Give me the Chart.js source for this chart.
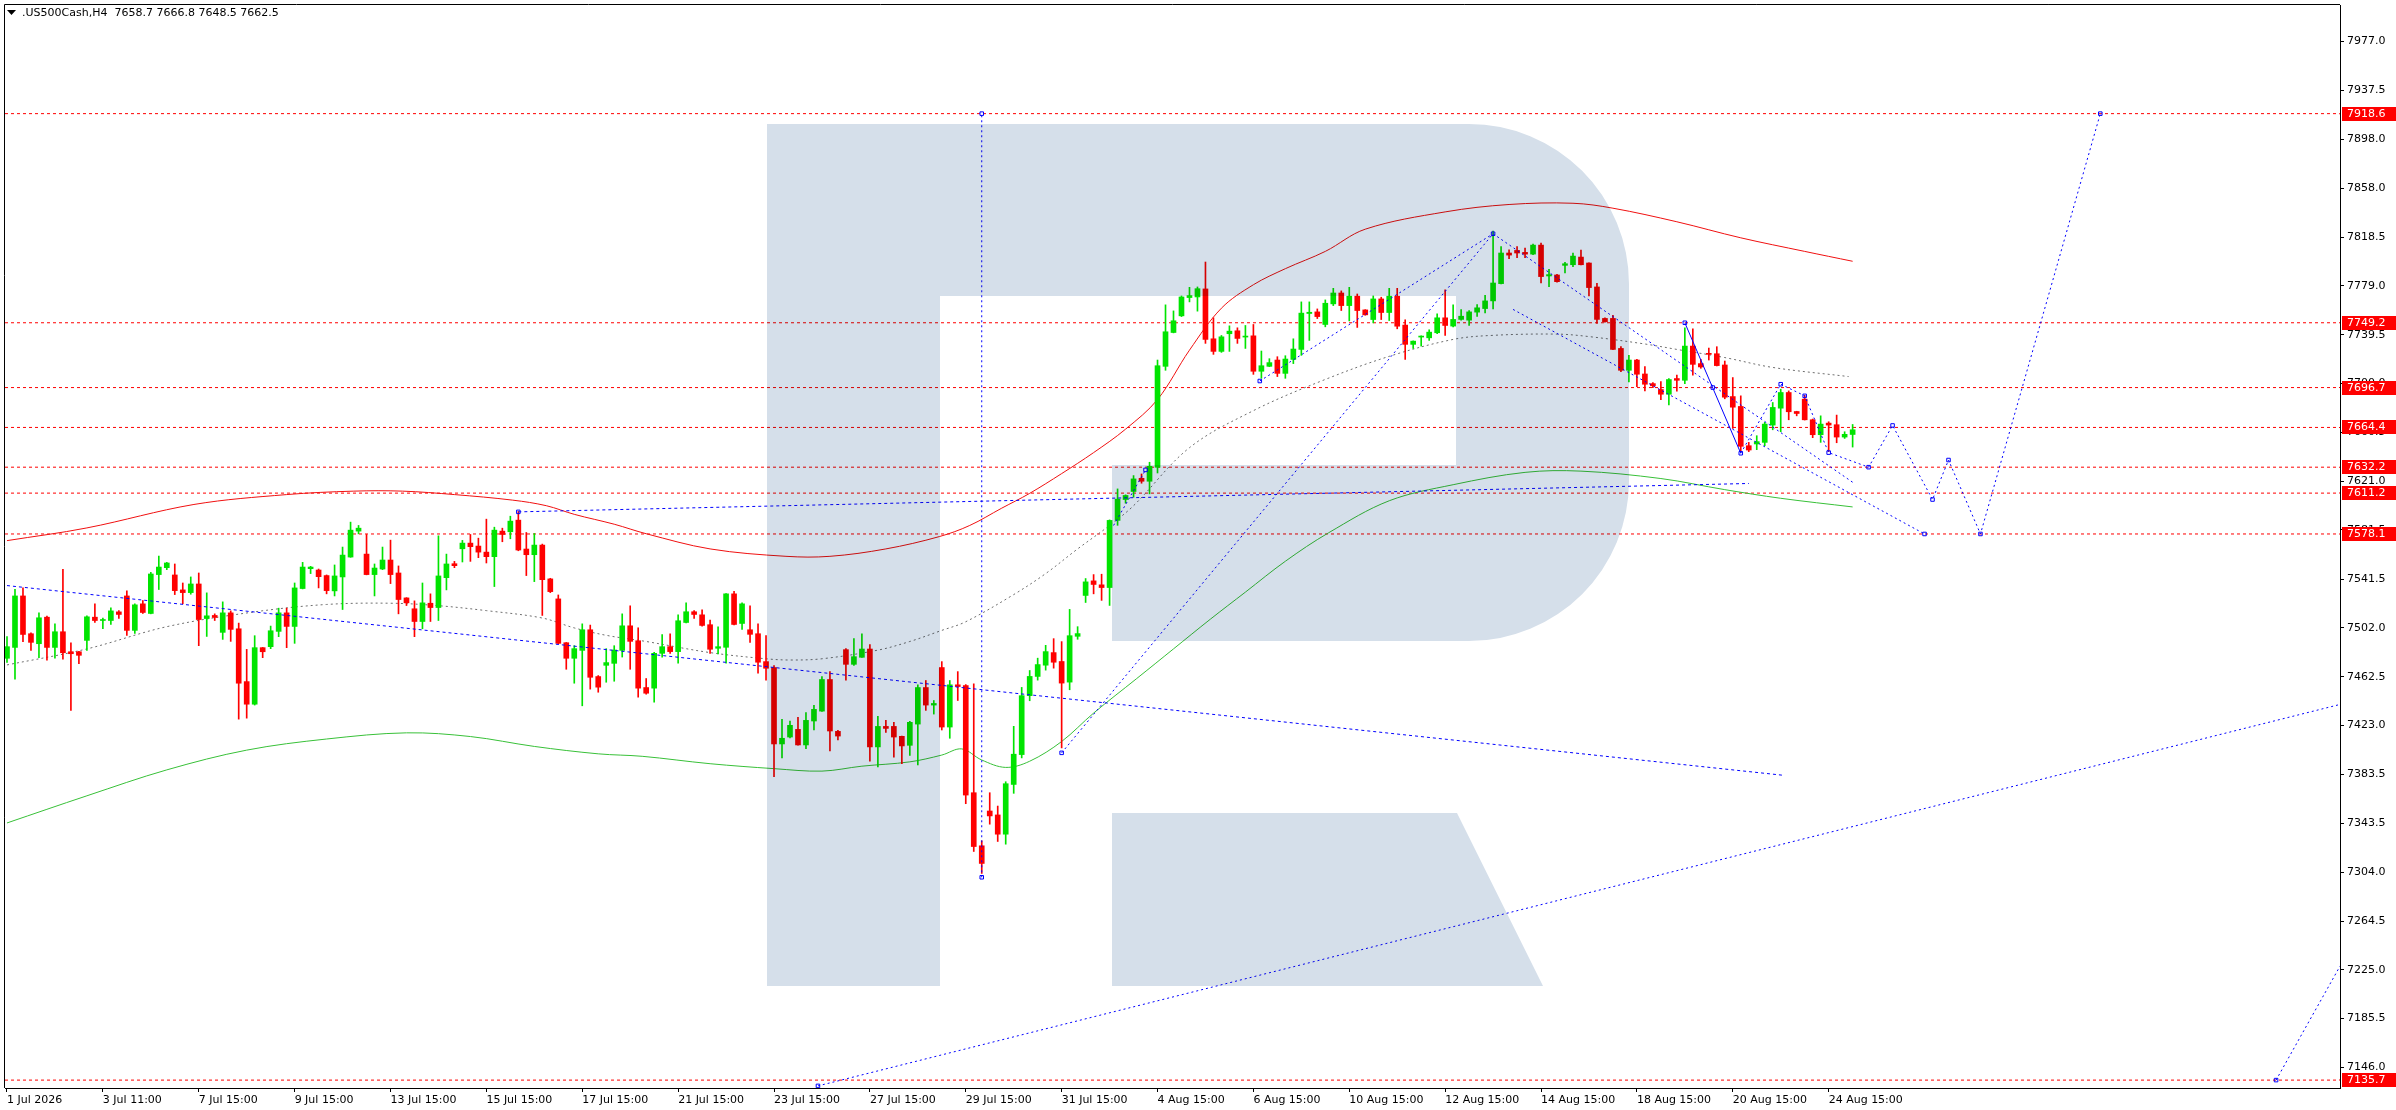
<!DOCTYPE html>
<html>
<head>
<meta charset="utf-8">
<script src="https://cdn.jsdelivr.net/npm/chart.js@4.4.1/dist/chart.umd.min.js"></script>
<style>
  html, body { margin: 0; padding: 0; background: #fff; overflow: hidden; }
  #wrap { position: absolute; left: 0; top: 0; width: 2396px; height: 1110px; }
</style>
</head>
<body>
<div id="wrap"><canvas id="chart"></canvas></div>
<script>
// .US500Cash H4 candles, bar 0 = 1 Jul 2026
const opens = [
  7477.4, 7486.2, 7527.9, 7497.3, 7489.2, 7510.7, 7486.2, 7498.9, 7482.7, 7482.7,
  7491.9, 7510.7, 7508.0, 7508.0, 7515.0, 7527.9, 7500.0, 7521.5, 7513.7, 7545.2,
  7550.8, 7544.9, 7532.8, 7530.6, 7537.6, 7509.6, 7512.1, 7498.4, 7514.2, 7501.3,
  7458.5, 7440.2, 7486.0, 7486.8, 7499.2, 7514.2, 7503.2, 7533.9, 7550.0, 7548.9,
  7544.4, 7532.0, 7543.3, 7559.4, 7580.4, 7561.8, 7545.2, 7549.7, 7557.0, 7546.5,
  7526.3, 7517.5, 7507.2, 7522.0, 7518.5, 7542.7, 7554.0, 7566.1, 7570.7, 7568.3,
  7563.4, 7559.7, 7580.4, 7579.9, 7589.3, 7565.9, 7561.3, 7569.1, 7541.7, 7525.5,
  7490.0, 7477.4, 7483.8, 7500.5, 7462.6, 7471.7, 7473.3, 7483.8, 7503.7, 7491.6,
  7453.7, 7453.2, 7481.4, 7486.8, 7482.8, 7506.4, 7515.1, 7512.6, 7504.6, 7485.5,
  7486.3, 7529.6, 7505.6, 7500.5, 7497.3, 7474.7, 7469.9, 7408.0, 7413.6, 7419.8,
  7407.2, 7426.6, 7434.6, 7460.2, 7418.2, 7484.4, 7472.5, 7478.2, 7484.9, 7405.6,
  7422.2, 7422.2, 7414.2, 7406.9, 7424.1, 7453.7, 7439.5, 7469.9, 7421.7, 7455.9,
  7455.3, 7368.5, 7325.5, 7353.7, 7350.5, 7334.9, 7375.2, 7399.4, 7447.1, 7462.7,
  7471.8, 7482.0, 7474.8, 7458.1, 7495.2, 7528.3, 7540.1, 7536.9, 7534.7, 7589.1,
  7606.0, 7612.5, 7623.2, 7620.8, 7632.1, 7713.9, 7741.3, 7754.8, 7769.6, 7770.1,
  7776.6, 7736.2, 7726.0, 7740.3, 7742.7, 7737.6, 7738.6, 7709.9, 7713.9, 7719.0,
  7708.2, 7719.5, 7727.6, 7756.7, 7758.0, 7747.8, 7764.5, 7773.3, 7763.1, 7770.7,
  7759.6, 7751.8, 7768.5, 7757.5, 7770.7, 7747.3, 7731.7, 7737.6, 7737.0, 7741.1,
  7753.2, 7746.5, 7751.9, 7751.3, 7757.8, 7760.7, 7766.9, 7780.9, 7805.7, 7807.8,
  7806.2, 7804.8, 7812.1, 7787.1, 7787.9, 7795.7, 7796.2, 7802.4, 7797.6, 7778.2,
  7752.7, 7752.7, 7728.4, 7710.7, 7719.0, 7707.7, 7699.9, 7695.1, 7691.3, 7704.0,
  7702.6, 7730.3, 7716.1, 7724.4, 7724.1, 7715.0, 7689.4, 7681.4, 7649.6, 7651.0,
  7652.3, 7666.3, 7680.0, 7692.7, 7677.3, 7687.3, 7670.6, 7658.5, 7667.9, 7666.6,
  7656.6, 7658.7
];
const highs = [
  7494.9, 7533.3, 7534.4, 7498.1, 7514.2, 7511.5, 7505.3, 7549.5, 7490.0, 7483.0,
  7511.8, 7521.5, 7509.9, 7518.3, 7516.1, 7532.0, 7521.5, 7524.2, 7547.0, 7560.2,
  7555.1, 7553.8, 7538.4, 7543.3, 7546.5, 7530.4, 7513.4, 7523.1, 7515.8, 7505.9,
  7484.6, 7495.7, 7486.2, 7503.5, 7518.0, 7518.0, 7538.4, 7555.1, 7551.9, 7549.7,
  7544.9, 7553.0, 7567.5, 7587.7, 7585.0, 7577.7, 7553.8, 7567.5, 7573.1, 7552.2,
  7526.5, 7523.9, 7538.4, 7529.6, 7576.6, 7561.8, 7555.9, 7572.9, 7577.7, 7574.7,
  7590.1, 7583.6, 7582.8, 7592.5, 7596.3, 7579.3, 7578.5, 7569.9, 7542.2, 7528.7,
  7490.2, 7487.6, 7505.3, 7504.3, 7463.4, 7485.2, 7487.6, 7513.4, 7519.9, 7502.1,
  7461.0, 7482.2, 7496.5, 7497.3, 7512.6, 7522.3, 7516.1, 7516.7, 7508.3, 7502.9,
  7529.8, 7531.7, 7522.3, 7519.9, 7505.4, 7495.7, 7471.5, 7427.9, 7426.6, 7429.5,
  7433.5, 7439.2, 7462.6, 7466.6, 7419.0, 7485.2, 7493.3, 7497.3, 7488.4, 7430.3,
  7427.1, 7425.5, 7414.4, 7426.3, 7455.9, 7459.4, 7443.2, 7474.7, 7459.4, 7466.6,
  7456.1, 7456.7, 7329.5, 7368.5, 7357.7, 7377.4, 7422.3, 7453.8, 7467.5, 7477.5,
  7487.9, 7493.3, 7490.9, 7517.0, 7503.0, 7542.0, 7545.2, 7545.5, 7589.5, 7614.6,
  7609.8, 7625.4, 7626.7, 7636.2, 7719.0, 7763.7, 7758.8, 7770.9, 7777.9, 7778.2,
  7798.4, 7753.2, 7738.9, 7746.7, 7745.1, 7747.0, 7747.8, 7726.3, 7720.1, 7721.7,
  7722.5, 7736.2, 7766.1, 7766.1, 7760.4, 7767.7, 7777.1, 7775.0, 7777.9, 7772.5,
  7759.8, 7770.9, 7769.9, 7777.1, 7777.1, 7751.6, 7734.5, 7738.6, 7743.5, 7756.4,
  7775.8, 7763.7, 7759.9, 7759.1, 7764.0, 7771.5, 7823.4, 7811.0, 7808.3, 7811.0,
  7809.7, 7812.9, 7813.7, 7792.5, 7788.4, 7798.1, 7805.7, 7808.1, 7797.8, 7781.2,
  7753.2, 7755.3, 7729.8, 7722.8, 7719.6, 7713.7, 7700.7, 7701.5, 7704.0, 7706.9,
  7745.1, 7744.3, 7719.6, 7728.7, 7729.8, 7718.2, 7704.8, 7690.0, 7652.3, 7657.7,
  7668.5, 7684.6, 7695.4, 7694.0, 7677.5, 7690.5, 7671.2, 7673.8, 7669.0, 7674.4,
  7660.9, 7666.8
];
const lows = [
  7474.1, 7460.4, 7490.8, 7483.8, 7477.9, 7475.8, 7477.4, 7476.6, 7435.1, 7473.1,
  7483.8, 7506.4, 7501.3, 7504.8, 7509.6, 7495.9, 7497.5, 7513.7, 7513.4, 7533.1,
  7549.2, 7529.0, 7521.5, 7529.3, 7487.6, 7495.1, 7508.0, 7492.7, 7491.1, 7428.1,
  7428.9, 7439.5, 7477.9, 7485.2, 7494.9, 7486.0, 7489.5, 7533.6, 7546.0, 7534.4,
  7529.6, 7527.9, 7516.9, 7559.2, 7578.2, 7545.0, 7527.9, 7549.2, 7537.9, 7513.4,
  7520.1, 7494.9, 7501.3, 7507.2, 7508.0, 7532.8, 7550.8, 7555.4, 7555.9, 7558.9,
  7554.6, 7535.5, 7571.8, 7574.2, 7564.5, 7544.4, 7539.5, 7512.1, 7530.6, 7489.0,
  7468.5, 7457.2, 7438.9, 7452.4, 7449.9, 7458.0, 7458.8, 7478.4, 7468.5, 7445.9,
  7448.3, 7441.9, 7478.2, 7481.4, 7473.4, 7506.0, 7509.7, 7503.5, 7481.4, 7480.9,
  7473.4, 7504.5, 7500.8, 7490.3, 7465.3, 7459.6, 7381.4, 7396.7, 7412.8, 7407.0,
  7404.2, 7419.3, 7434.3, 7402.3, 7411.2, 7459.6, 7471.7, 7478.0, 7394.0, 7389.4,
  7417.4, 7397.2, 7392.1, 7398.8, 7391.0, 7435.2, 7432.2, 7419.3, 7412.6, 7443.2,
  7359.6, 7320.9, 7303.1, 7343.0, 7329.0, 7326.8, 7368.0, 7396.7, 7443.0, 7459.7,
  7467.8, 7469.4, 7404.8, 7451.9, 7492.8, 7522.6, 7529.6, 7524.3, 7520.2, 7585.1,
  7603.1, 7607.9, 7619.2, 7610.6, 7627.5, 7710.7, 7741.0, 7754.2, 7766.1, 7758.6,
  7732.5, 7723.6, 7725.2, 7726.0, 7732.5, 7728.4, 7707.4, 7704.2, 7713.6, 7705.6,
  7704.2, 7716.1, 7722.8, 7734.9, 7752.6, 7745.9, 7763.1, 7759.1, 7750.7, 7745.4,
  7755.3, 7749.1, 7751.8, 7751.0, 7744.3, 7719.5, 7728.4, 7730.3, 7734.9, 7740.3,
  7738.9, 7745.9, 7751.3, 7747.0, 7754.3, 7757.2, 7760.5, 7780.6, 7801.1, 7801.9,
  7801.9, 7804.3, 7781.4, 7778.5, 7782.0, 7789.5, 7794.6, 7796.0, 7771.0, 7748.6,
  7749.7, 7727.4, 7709.6, 7701.3, 7697.5, 7694.0, 7696.7, 7686.8, 7682.7, 7693.7,
  7699.9, 7706.7, 7712.3, 7719.0, 7714.2, 7687.6, 7663.6, 7644.8, 7644.8, 7646.4,
  7649.6, 7662.5, 7660.9, 7670.6, 7673.8, 7670.4, 7656.1, 7652.3, 7644.8, 7652.0,
  7655.5, 7648.5
];
const closes = [
  7486.8, 7527.9, 7496.7, 7490.3, 7510.2, 7486.2, 7498.9, 7481.9, 7481.1, 7479.8,
  7511.0, 7508.0, 7508.8, 7515.8, 7512.9, 7500.0, 7520.7, 7514.5, 7545.7, 7551.3,
  7554.6, 7532.2, 7530.6, 7537.6, 7508.8, 7511.8, 7510.5, 7514.2, 7500.8, 7457.2,
  7440.2, 7486.0, 7482.7, 7499.7, 7514.2, 7503.2, 7534.4, 7551.3, 7551.3, 7543.5,
  7532.2, 7544.1, 7561.0, 7581.2, 7582.8, 7545.2, 7550.5, 7557.0, 7545.2, 7525.0,
  7522.3, 7507.2, 7522.3, 7518.5, 7544.1, 7553.8, 7552.4, 7570.7, 7567.8, 7563.4,
  7559.7, 7581.2, 7577.7, 7588.5, 7565.1, 7561.3, 7569.1, 7541.1, 7531.4, 7489.5,
  7477.4, 7485.2, 7500.5, 7462.0, 7454.0, 7473.9, 7484.1, 7503.7, 7491.1, 7453.2,
  7449.1, 7481.4, 7486.8, 7482.8, 7507.8, 7515.1, 7512.9, 7504.0, 7484.7, 7486.8,
  7529.6, 7504.8, 7521.5, 7496.8, 7474.2, 7469.3, 7408.0, 7412.6, 7423.1, 7407.2,
  7427.1, 7436.0, 7460.2, 7418.5, 7414.4, 7472.5, 7478.7, 7484.9, 7405.6, 7422.2,
  7420.6, 7413.6, 7406.4, 7425.5, 7453.7, 7439.5, 7440.8, 7421.7, 7455.9, 7454.5,
  7366.6, 7324.9, 7311.2, 7349.7, 7334.9, 7375.8, 7399.7, 7447.1, 7462.7, 7472.3,
  7482.8, 7474.2, 7457.3, 7495.7, 7497.4, 7539.3, 7537.2, 7534.7, 7589.1, 7606.3,
  7609.3, 7622.7, 7620.8, 7632.9, 7714.4, 7741.9, 7750.8, 7770.1, 7771.2, 7776.8,
  7735.7, 7726.0, 7737.8, 7742.4, 7736.5, 7738.4, 7709.9, 7714.4, 7716.9, 7708.2,
  7719.8, 7727.9, 7757.0, 7757.7, 7754.2, 7765.0, 7773.3, 7763.1, 7770.7, 7759.1,
  7755.6, 7768.5, 7757.5, 7770.7, 7746.4, 7731.7, 7734.3, 7738.1, 7741.6, 7753.2,
  7747.0, 7751.9, 7754.5, 7758.0, 7761.3, 7766.9, 7781.4, 7805.7, 7804.0, 7805.7,
  7804.8, 7812.1, 7786.6, 7788.2, 7782.5, 7797.0, 7803.2, 7796.2, 7777.7, 7751.9,
  7750.0, 7727.6, 7710.7, 7719.0, 7707.5, 7699.4, 7698.1, 7691.3, 7703.2, 7702.6,
  7730.3, 7715.5, 7713.4, 7723.6, 7714.5, 7688.9, 7680.8, 7649.1, 7646.1, 7652.9,
  7667.1, 7680.6, 7692.7, 7677.1, 7675.7, 7670.6, 7658.5, 7667.1, 7666.3, 7656.6,
  7658.8, 7662.5
];

// time axis labels, one every 12 bars
const xTickLabels = [
  '1 Jul 2026', '3 Jul 11:00', '7 Jul 15:00', '9 Jul 15:00', '13 Jul 15:00',
  '15 Jul 15:00', '17 Jul 15:00', '21 Jul 15:00', '23 Jul 15:00', '27 Jul 15:00',
  '29 Jul 15:00', '31 Jul 15:00', '4 Aug 15:00', '6 Aug 15:00', '10 Aug 15:00',
  '12 Aug 15:00', '14 Aug 15:00', '18 Aug 15:00', '20 Aug 15:00', '24 Aug 15:00'
];
const yTicks = [
  7146.0, 7185.5, 7225.0, 7264.5, 7304.0, 7343.5, 7383.5, 7423.0, 7462.5, 7502.0, 7541.5,
  7581.5, 7621.0, 7660.5, 7700.0, 7739.5, 7779.0, 7818.5, 7858.0, 7898.0, 7937.5, 7977.0
];

// horizontal support / resistance levels
const levels = [7918.6, 7749.2, 7696.7, 7664.4, 7632.2, 7611.2, 7578.1, 7135.7];

// envelope bands [bar, price]
const upperBand = [
  [0, 7572.7], [10, 7583], [23.4, 7602], [35, 7610], [43.4, 7612.8], [49.5, 7612.8],
  [56, 7610], [63.3, 7605.5], [67.5, 7601], [71, 7594], [76, 7586], [80, 7578.3],
  [88, 7566], [97.5, 7560], [103, 7560], [110, 7566], [116.7, 7576], [120.5, 7585],
  [124.5, 7599], [128, 7611], [132, 7627], [136, 7644], [140, 7663], [144, 7687],
  [148, 7727], [152, 7761], [156, 7780], [160, 7793], [165, 7807], [170, 7825],
  [180, 7839], [188, 7845], [196, 7846], [201, 7842], [209, 7831], [217, 7818],
  [225, 7807], [231, 7799]
];
const middleBand = [
  [0, 7472], [10, 7485], [20, 7503], [31, 7515], [40, 7521], [48, 7522], [54, 7520],
  [60, 7516], [67, 7510], [71, 7502], [75, 7496], [80, 7491], [88, 7482], [95, 7477],
  [98, 7476], [102, 7477], [109, 7484], [113, 7491], [117, 7500], [120, 7507],
  [126, 7529], [130, 7546], [134, 7566], [138, 7585], [141, 7601], [148, 7648],
  [156, 7678], [164.5, 7702], [173, 7722], [181, 7735.7], [186, 7739], [194, 7740],
  [198, 7738], [205, 7732], [209, 7727.6], [215, 7721], [221, 7713], [230.5, 7705.6]
];
const lowerBand = [
  [0, 7344], [10, 7366], [20, 7387], [30, 7403], [40, 7412], [50, 7417], [58, 7414],
  [66, 7406], [74, 7400], [79.5, 7398], [88, 7392], [96, 7388], [102, 7386], [107, 7390],
  [113, 7393.5], [117, 7399], [119.5, 7404], [122, 7395], [125, 7389], [128, 7394],
  [132, 7410], [136, 7433], [141.4, 7461], [146, 7485], [150.6, 7509], [155, 7531],
  [160, 7556], [165.4, 7579], [173, 7605], [181, 7618], [190, 7628], [197, 7629],
  [207, 7623], [215, 7614], [222, 7607], [231, 7600]
];

// analysis lines [bar, price]
const trendDown = [[0, 7536.3], [222.5, 7382.5]];
const trendUp = [[101.5, 7131], [292, 7440]];
const flatLine = [[64, 7596], [218, 7619]];
const verticalLine = [[122, 7300], [122, 7918.6]];
const riseA = [[132, 7400.8], [186, 7821.3]];
const riseB = [[138.5, 7585], [142.5, 7630]];
const riseC = [[156.8, 7702], [186, 7821.3]];
const channelTop = [[186, 7821.3], [231, 7620]];
const channelBottom = [[188.5, 7760], [240, 7578.1]];
const waveSolid = [[210, 7749.2], [217, 7643.5]];
const forecastPath = [
  [217, 7643.5], [222, 7699.4], [225, 7690], [228, 7644], [233, 7632.2], [236, 7666],
  [241, 7606], [243, 7638], [247, 7578.1], [262, 7918.6]
];
const lowerLeg = [[284, 7135.7], [292, 7228]];
const markers = [
  [122, 7918.6], [122, 7300], [132, 7400.8], [142.5, 7630], [156.8, 7702], [186, 7821.3],
  [210, 7749.2], [213.5, 7696.7], [217, 7643.5], [222, 7699.4], [225, 7690], [228, 7644],
  [233, 7632.2], [236, 7666], [241, 7606], [243, 7638], [247, 7578.1], [240, 7578.1],
  [262, 7918.6], [284, 7135.7], [101.5, 7131], [64, 7596]
];

const X_MIN = -0.25, X_MAX = 292;
const Y_MIN = 7129.3, Y_MAX = 8006.6;
const UP = '#00e400', DOWN = '#ff0000', BLUE = '#0000ff';

Chart.defaults.font.family = '"DejaVu Sans", sans-serif';
Chart.defaults.font.size = 11;
Chart.defaults.color = '#000';

const candleColors = opens.map((o, i) => closes[i] >= o ? UP : DOWN);

function lineSet(points, color, dash, order, extra) {
  return Object.assign({
    type: 'line',
    data: points.map(p => ({ x: p[0], y: p[1] })),
    borderColor: color,
    borderWidth: 1,
    borderDash: dash,
    pointRadius: 0,
    fill: false,
    order: order
  }, extra || {});
}

const smooth = { tension: 0.35 };
const datasets = [];
levels.forEach(v => datasets.push(lineSet([[X_MIN, v], [X_MAX, v]], '#ff0000', [3, 3], 9)));
datasets.push(lineSet(upperBand, '#f01010', [], 8, smooth));
datasets.push(lineSet(middleBand, '#6e6e6e', [2, 3], 8, smooth));
datasets.push(lineSet(lowerBand, '#38c038', [], 8, smooth));
datasets.push({
  type: 'bar',
  data: opens.map((o, i) => ({ x: i, y: [lows[i], highs[i]] })),
  backgroundColor: candleColors,
  barThickness: 1,
  grouped: false,
  order: 5
});
datasets.push({
  type: 'bar',
  data: opens.map((o, i) => ({ x: i, y: [o, closes[i]] })),
  backgroundColor: candleColors,
  barThickness: 5,
  minBarLength: 1,
  grouped: false,
  order: 4
});
[trendDown, flatLine].forEach(p => datasets.push(lineSet(p, BLUE, [3, 3], 3)));
[trendUp, verticalLine, riseA, riseB, riseC, channelTop, channelBottom, forecastPath, lowerLeg]
  .forEach(p => datasets.push(lineSet(p, BLUE, [2, 3], 3)));
datasets.push(lineSet(waveSolid, BLUE, [], 3));
datasets.push(lineSet(markers, BLUE, [], 2, {
  showLine: false, pointRadius: 2.5, pointStyle: 'rect',
  pointBorderColor: BLUE, pointBackgroundColor: 'rgba(255,255,255,0)', pointBorderWidth: 1
}));

// watermark logo, blended over the plot
const logoPlugin = {
  id: 'logo',
  afterDatasetsDraw(chart) {
    const { ctx, chartArea } = chart;
    const sx = chart.width / 2396, sy = chart.height / 1110;
    ctx.save();
    ctx.beginPath();
    ctx.rect(chartArea.left, chartArea.top, chartArea.width, chartArea.height);
    ctx.clip();
    ctx.globalCompositeOperation = 'multiply';
    ctx.fillStyle = 'rgb(213,223,234)';
    ctx.beginPath();
    ctx.moveTo(767 * sx, 124 * sy);
    ctx.arcTo(1629 * sx, 124 * sy, 1629 * sx, 641 * sy, 160 * sx);
    ctx.arcTo(1629 * sx, 641 * sy, 767 * sx, 641 * sy, 160 * sx);
    ctx.lineTo(1112 * sx, 641 * sy);
    ctx.lineTo(1112 * sx, 465 * sy);
    ctx.lineTo(1456 * sx, 465 * sy);
    ctx.lineTo(1456 * sx, 296 * sy);
    ctx.lineTo(940 * sx, 296 * sy);
    ctx.lineTo(940 * sx, 986 * sy);
    ctx.lineTo(767 * sx, 986 * sy);
    ctx.closePath();
    ctx.moveTo(1112 * sx, 813 * sy);
    ctx.lineTo(1457 * sx, 813 * sy);
    ctx.lineTo(1543 * sx, 986 * sy);
    ctx.lineTo(1112 * sx, 986 * sy);
    ctx.closePath();
    ctx.fill();
    ctx.restore();
  }
};

// frame, title and price tags
const overlayPlugin = {
  id: 'overlay',
  afterDraw(chart) {
    const { ctx, chartArea } = chart;
    const yScale = chart.scales.y;
    ctx.save();
    ctx.strokeStyle = '#000';
    ctx.lineWidth = 1;
    ctx.beginPath();
    ctx.moveTo(chartArea.left - 0.5, chartArea.bottom);
    ctx.lineTo(chartArea.left - 0.5, chartArea.top - 0.5);
    ctx.lineTo(chartArea.right, chartArea.top - 0.5);
    ctx.stroke();

    ctx.font = '11px "DejaVu Sans"';
    ctx.textBaseline = 'middle';
    levels.forEach(v => {
      const y = Math.round(yScale.getPixelForValue(v));
      ctx.fillStyle = '#ff0000';
      ctx.fillRect(chartArea.right + 2, y - 7, chart.width - chartArea.right - 2, 14);
      ctx.fillStyle = '#fff';
      ctx.fillText(v.toFixed(1), chartArea.right + 7, y + 0.5);
    });

    const last = opens.length - 1;
    const title = '.US500Cash,H4  ' + [opens[last], highs[last], lows[last], closes[last]]
      .map(v => v.toFixed(1)).join(' ');
    ctx.fillStyle = '#000';
    ctx.beginPath();
    ctx.moveTo(7, 10);
    ctx.lineTo(16, 10);
    ctx.lineTo(11.5, 15);
    ctx.closePath();
    ctx.fill();
    ctx.fillText(title, 22, 13);
    ctx.restore();
  }
};

new Chart(document.getElementById('chart'), {
  type: 'bar',
  data: { datasets: datasets },
  options: {
    responsive: true,
    maintainAspectRatio: false,
    animation: false,
    events: [],
    layout: { padding: { left: 2, top: 1, right: 0, bottom: 0 } },
    plugins: { legend: { display: false }, tooltip: { enabled: false } },
    scales: {
      x: {
        type: 'linear',
        min: X_MIN,
        max: X_MAX,
        offset: false,
        grid: { display: true, drawOnChartArea: false, drawTicks: true, tickLength: 4, color: '#000', offset: false },
        border: { display: true, color: '#000' },
        ticks: {
          autoSkip: false, maxRotation: 0, align: 'start', padding: 2,
          callback: v => xTickLabels[Math.round(v / 12)]
        },
        afterBuildTicks: s => { s.ticks = xTickLabels.map((t, i) => ({ value: i * 12 })); },
        afterFit: s => { s.height = 22; s.paddingLeft = 0; s.paddingRight = 0; }
      },
      y: {
        type: 'linear',
        position: 'right',
        min: Y_MIN,
        max: Y_MAX,
        beginAtZero: false,
        grid: { display: true, drawOnChartArea: false, drawTicks: true, tickLength: 4, color: '#000' },
        border: { display: true, color: '#000' },
        ticks: { padding: 3, callback: v => v.toFixed(1) },
        afterBuildTicks: s => { s.ticks = yTicks.map(v => ({ value: v })); },
        afterFit: s => { s.width = 56; s.paddingTop = 0; s.paddingBottom = 0; }
      }
    }
  },
  plugins: [logoPlugin, overlayPlugin]
});
</script>
</body>
</html>
